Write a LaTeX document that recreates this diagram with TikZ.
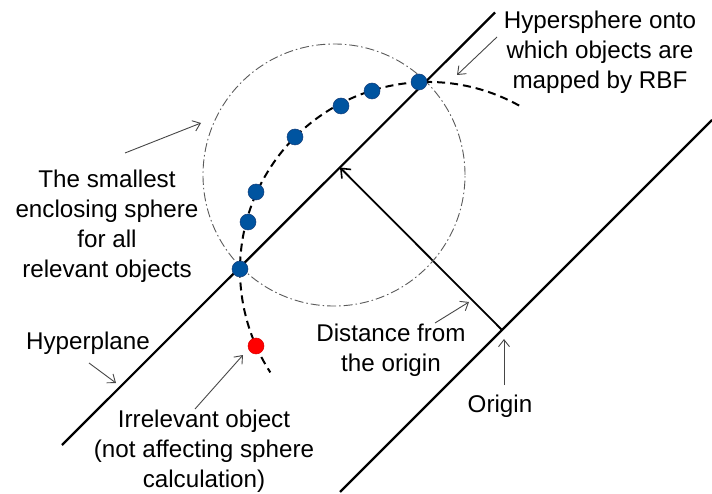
\documentclass[tikz,border=0pt]{standalone}
\usepackage{fontspec}
\setmainfont{Liberation Sans}
\usetikzlibrary{arrows.meta}
\definecolor{dotblue}{RGB}{0,84,160}
\definecolor{dotedge}{RGB}{20,60,120}
\definecolor{thingray}{RGB}{70,70,70}
\definecolor{circgray}{RGB}{90,90,90}
\begin{document}
\begin{tikzpicture}[x=1pt,y=1pt,
  plane/.style={line width=2.2pt,black},
  perparrow/.style={line width=1.8pt,black,-{Straight Barb[length=8pt,width=13pt,line width=1.6pt]}},
  pointer/.style={line width=0.9pt,thingray,-{Straight Barb[length=7pt,width=11pt,line width=0.9pt]}},
  sphere/.style={line width=2pt,black,dash pattern=on 8pt off 5pt},
  enclose/.style={line width=0.9pt,circgray,dash pattern=on 9pt off 3pt on 1.5pt off 3pt},
  bdot/.style={circle,fill=dotblue,draw=dotedge,line width=0.5pt,minimum size=16pt,inner sep=0pt},
  rdot/.style={circle,fill=red,draw=red!85!black,line width=0.5pt,minimum size=16pt,inner sep=0pt},
  lbl/.style={align=center,font=\fontsize{24.2}{30}\selectfont,inner sep=0pt}]
\useasboundingbox (0,0) rectangle (712,493);
% planes
\coordinate (hpA) at (62,48);
\coordinate (hpB) at (495,480.5);
\coordinate (opA) at (340,1);
\coordinate (opB) at (712,373);
\draw[plane] (hpA) -- (hpB);
\draw[plane] (opA) -- (opB);
% origin and foot
\coordinate (O) at (502,163);
\coordinate (F) at (340,325.5);
\draw[perparrow] (O) -- (F);
% enclosing sphere
\coordinate (cc) at (334,318);
\draw[enclose] (cc) circle[radius=131];
% hypersphere arc
\coordinate (hc) at (428,223);
\draw[sphere] ([shift={(61:188)}]hc) arc[start angle=61,end angle=213,radius=188];
% dots
\node[bdot] (d1) at (419,411) {};
\node[bdot] (d2) at (372,402) {};
\node[bdot] (d3) at (341,387) {};
\node[bdot] (d4) at (295,356) {};
\node[bdot] (d5) at (256,301) {};
\node[bdot] (d6) at (248,271) {};
\node[bdot] (d7) at (240,224) {};
\node[rdot] (r1) at (256,147) {};
% labels
\node[lbl] (thyp) at (600,441) {Hypersphere onto\\which objects are\\mapped by RBF};
\node[lbl] (tsmall) at (107,267) {The smallest\\enclosing sphere\\for all\\relevant objects};
\node[lbl] (tplane) at (88,150) {Hyperplane};
\node[lbl] (tirr) at (204,42) {Irrelevant object\\(not affecting sphere\\calculation)};
\node[lbl] (tdist) at (391,143) {Distance from\\the origin};
\node[lbl] (torig) at (500,87) {Origin};
% pointer arrows
\coordinate (p1s) at (497,456); \coordinate (p1e) at (457,418);
\coordinate (p2s) at (125,340); \coordinate (p2e) at (201,370);
\coordinate (p3s) at (89,130);  \coordinate (p3e) at (116,110);
\coordinate (p4s) at (195,84);  \coordinate (p4e) at (243,138);
\coordinate (p5s) at (435,170); \coordinate (p5e) at (469,191);
\coordinate (p6s) at (504,108); \coordinate (p6e) at (504,154);
\draw[pointer] (p1s) -- (p1e);
\draw[pointer] (p2s) -- (p2e);
\draw[pointer] (p3s) -- (p3e);
\draw[pointer] (p4s) -- (p4e);
\draw[pointer] (p5s) -- (p5e);
\draw[pointer] (p6s) -- (p6e);
\end{tikzpicture}
\end{document}
